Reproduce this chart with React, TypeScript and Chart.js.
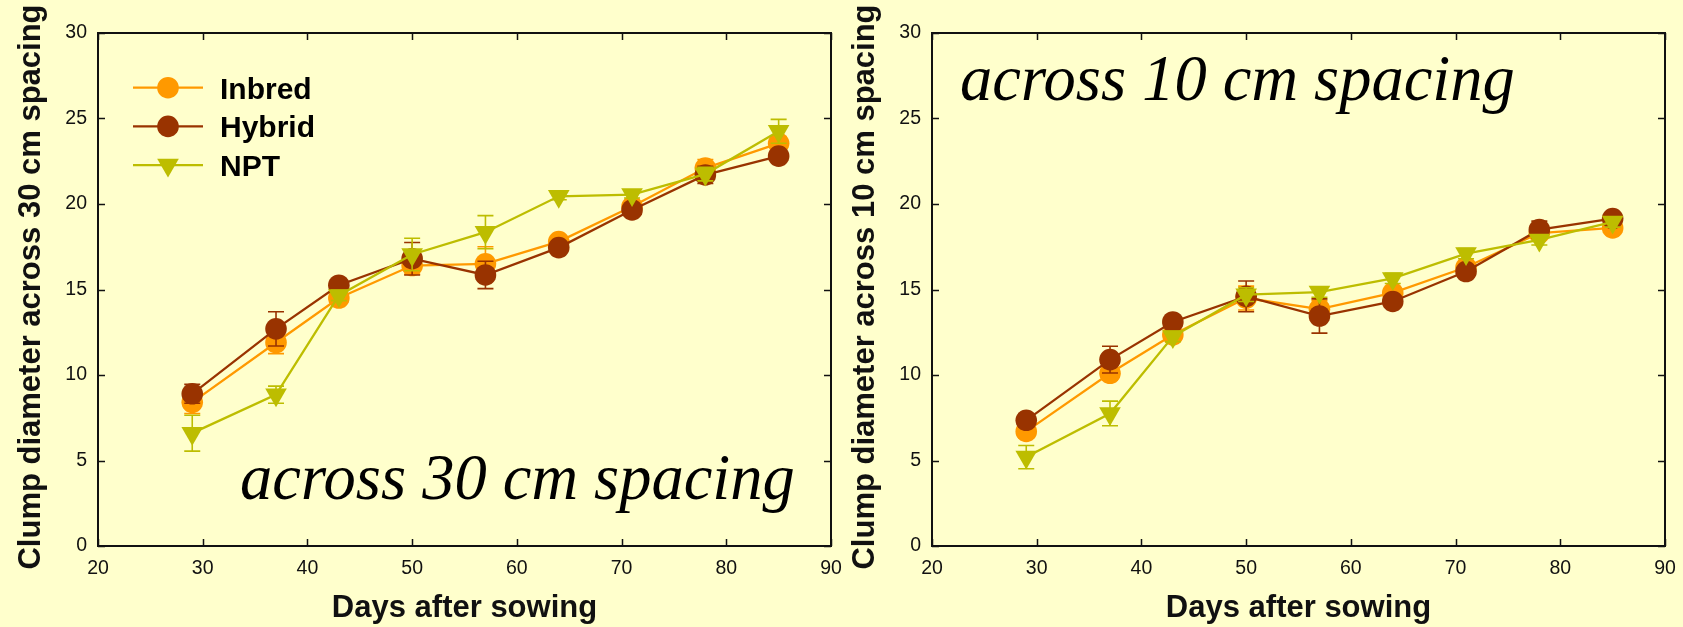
import React, { useEffect, useRef } from "react";
import { Chart, registerables } from "chart.js";

Chart.register(...registerables);

// ---------- data ----------
const days = [29, 37, 43, 50, 57, 64, 71, 78, 85];

const seriesNames = ["Inbred", "Hybrid", "NPT"];
const seriesColors = ["#FF9900", "#993300", "#BDBD00"];

// across 30 cm spacing
const inbred30 = [8.4, 11.9, 14.5, 16.4, 16.5, 17.8, 19.85, 22.1, 23.55];
const hybrid30 = [8.9, 12.7, 15.25, 16.8, 15.85, 17.45, 19.65, 21.7, 22.8];
const npt30 = [6.6, 8.85, 14.65, 17.05, 18.35, 20.45, 20.55, 21.75, 24.25];
const inbred30Err = [0.65, 0.65, 0.3, 0.5, 1.0, 0.3, 0.3, 0.5, 0.4];
const hybrid30Err = [0.55, 1.0, 0.3, 0.95, 0.8, 0.3, 0.3, 0.5, 0.3];
const npt30Err = [1.05, 0.5, 0.3, 0.95, 0.97, 0.2, 0.2, 0.4, 0.7];

// across 10 cm spacing
const inbred10 = [6.7, 10.1, 12.35, 14.5, 13.85, 14.8, 16.3, 18.3, 18.6];
const hybrid10 = [7.35, 10.9, 13.1, 14.6, 13.45, 14.3, 16.05, 18.5, 19.15];
const npt10 = [5.2, 7.75, 12.25, 14.7, 14.85, 15.65, 17.1, 17.9, 18.95];
const inbred10Err = [0.4, 0.4, 0.3, 0.7, 0.5, 0.3, 0.3, 0.3, 0.3];
const hybrid10Err = [0.4, 0.78, 0.3, 0.9, 1.0, 0.3, 0.3, 0.5, 0.3];
const npt10Err = [0.68, 0.72, 0.3, 0.4, 0.3, 0.3, 0.3, 0.3, 0.3];

const xMin = 20, xMax = 90, xStep = 10;
const yMin = 0, yMax = 30, yStep = 5;

const xTitle = "Days after sowing";
const yTitle30 = "Clump diameter across 30 cm spacing";
const yTitle10 = "Clump diameter across 10 cm spacing";
const note30 = "across 30 cm spacing";
const note10 = "across 10 cm spacing";

// ---------- styling ----------
const BG = "#FFFFCC";
const SANS = '"Liberation Sans", Arial, Helvetica, sans-serif';
const SERIF = '"Liberation Serif", "Times New Roman", serif';
const INK = "#111";
const CW = 849;
const CH = 627;

// ---------- plugins ----------
const framePlugin = {
  id: "frameTicks",
  beforeDatasetsDraw(chart: any) {
    const { ctx, chartArea: a, scales } = chart;
    const xs = scales.x, ys = scales.y;
    ctx.save();
    ctx.strokeStyle = INK;
    ctx.lineWidth = 2;
    ctx.strokeRect(a.left, a.top, a.right - a.left, a.bottom - a.top);
    ctx.lineWidth = 1.5;
    const L = 7;
    ctx.beginPath();
    xs.ticks.forEach((t: any) => {
      const px = Math.round(xs.getPixelForValue(t.value)) + 0.5;
      ctx.moveTo(px, a.bottom); ctx.lineTo(px, a.bottom - L);
      ctx.moveTo(px, a.top); ctx.lineTo(px, a.top + L);
    });
    ys.ticks.forEach((t: any) => {
      const py = Math.round(ys.getPixelForValue(t.value)) + 0.5;
      ctx.moveTo(a.left, py); ctx.lineTo(a.left + L, py);
      ctx.moveTo(a.right, py); ctx.lineTo(a.right - L, py);
    });
    ctx.stroke();
    ctx.restore();
  },
};

const errorBarPlugin = {
  id: "errorBars",
  beforeDatasetDraw(chart: any, args: any) {
    const ds = chart.data.datasets[args.index];
    const errs: number[] = ds.errors || [];
    const { ctx, scales } = chart;
    ctx.save();
    ctx.strokeStyle = ds.borderColor;
    ctx.lineWidth = 1.6;
    ctx.beginPath();
    ds.data.forEach((p: any, i: number) => {
      const e = errs[i] || 0;
      const px = scales.x.getPixelForValue(p.x);
      const y1 = scales.y.getPixelForValue(p.y + e);
      const y2 = scales.y.getPixelForValue(p.y - e);
      ctx.moveTo(px, y1); ctx.lineTo(px, y2);
      ctx.moveTo(px - 8, y1); ctx.lineTo(px + 8, y1);
      ctx.moveTo(px - 8, y2); ctx.lineTo(px + 8, y2);
    });
    ctx.stroke();
    ctx.restore();
  },
};

function drawMarker(ctx: CanvasRenderingContext2D, style: string, x: number, y: number, r: number, color: string) {
  ctx.fillStyle = color;
  ctx.beginPath();
  if (style === "triangle") {
    const s = Math.sin(Math.PI / 3);
    ctx.moveTo(x, y + r);
    ctx.lineTo(x - r * s, y - r / 2);
    ctx.lineTo(x + r * s, y - r / 2);
    ctx.closePath();
  } else {
    ctx.arc(x, y, r, 0, Math.PI * 2);
  }
  ctx.fill();
}

const textPlugin = {
  id: "panelText",
  afterDraw(chart: any, _args: any, opts: any) {
    const { ctx } = chart;
    ctx.save();
    // y axis title (drawn here so it is not squeezed to the axis height)
    ctx.translate(opts.yTitleX, opts.yTitleY);
    ctx.rotate(-Math.PI / 2);
    ctx.font = `bold 31px ${SANS}`;
    ctx.fillStyle = INK;
    ctx.textAlign = "center";
    ctx.textBaseline = "middle";
    ctx.fillText(opts.yTitle, 0, 0);
    ctx.restore();

    // panel annotation
    ctx.save();
    ctx.font = `italic 64.5px ${SERIF}`;
    ctx.fillStyle = "#000";
    ctx.textAlign = "left";
    ctx.textBaseline = "alphabetic";
    ctx.fillText(opts.note, opts.noteX, opts.noteY);
    ctx.restore();

    // legend
    if (opts.legend) {
      ctx.save();
      chart.data.datasets.forEach((ds: any, i: number) => {
        const cy = 87.7 + i * 38.7;
        ctx.strokeStyle = ds.borderColor;
        ctx.lineWidth = ds.borderWidth;
        ctx.beginPath();
        ctx.moveTo(133, cy); ctx.lineTo(203, cy);
        ctx.stroke();
        drawMarker(ctx, ds.pointStyle, 168, cy, ds.pointRadius, ds.borderColor);
        ctx.font = `bold 30px ${SANS}`;
        ctx.fillStyle = "#000";
        ctx.textAlign = "left";
        ctx.textBaseline = "alphabetic";
        ctx.fillText(ds.label, 220, cy + 11);
      });
      ctx.restore();
    }
  },
};

type PanelProps = {
  left: number;
  values: number[][];
  errors: number[][];
  yTitle: string;
  note: string;
  noteX: number;
  noteY: number;
  legend: boolean;
};

function Panel(props: PanelProps) {
  const ref = useRef<HTMLCanvasElement | null>(null);
  useEffect(() => {
    if (!ref.current) return;
    const datasets = seriesNames.map((name, i) => ({
      label: name,
      data: days.map((d, j) => ({ x: d, y: props.values[i][j] })),
      errors: props.errors[i],
      borderColor: seriesColors[i],
      backgroundColor: seriesColors[i],
      borderWidth: 2.3,
      pointStyle: i === 2 ? "triangle" : "circle",
      pointRotation: i === 2 ? 180 : 0,
      pointRadius: i === 2 ? 12.5 : 10.8,
      pointBorderWidth: 0,
      pointBackgroundColor: seriesColors[i],
      pointBorderColor: seriesColors[i],
      showLine: true,
      tension: 0,
      order: 3 - i,
    }));
    const chart = new Chart(ref.current, {
      type: "line",
      data: { datasets } as any,
      options: {
        animation: false,
        responsive: false,
        devicePixelRatio: 1,
        events: [],
        layout: { padding: { top: 33, left: 0, right: 18, bottom: 0 } },
        plugins: {
          legend: { display: false },
          tooltip: { enabled: false },
          panelText: {
            yTitle: props.yTitle,
            yTitleX: 31,
            yTitleY: 287,
            note: props.note,
            noteX: props.noteX,
            noteY: props.noteY,
            legend: props.legend,
          },
        } as any,
        scales: {
          x: {
            type: "linear",
            min: xMin,
            max: xMax,
            ticks: {
              stepSize: xStep,
              color: INK,
              font: { family: SANS, size: 19.5 },
              padding: 11,
              maxRotation: 0,
              autoSkip: false,
            },
            grid: { display: false, drawTicks: false },
            border: { display: false },
            title: {
              display: true,
              text: xTitle,
              color: INK,
              font: { family: SANS, size: 31, weight: "bold" },
              padding: { top: 0, bottom: 0 },
            },
            afterFit: (s: any) => {
              s.height = 81;
              s.paddingLeft = 0;
              s.paddingRight = 0;
            },
          },
          y: {
            type: "linear",
            min: yMin,
            max: yMax,
            ticks: {
              stepSize: yStep,
              color: INK,
              font: { family: SANS, size: 19.5 },
              padding: 11,
            },
            grid: { display: false, drawTicks: false },
            border: { display: false },
            afterFit: (s: any) => {
              s.width = 98;
              s.paddingTop = 0;
              s.paddingBottom = 0;
            },
          },
        } as any,
      },
      plugins: [framePlugin, errorBarPlugin, textPlugin],
    });
    return () => chart.destroy();
  }, []);
  return (
    <canvas
      ref={ref}
      width={CW}
      height={CH}
      style={{ position: "absolute", left: props.left, top: 0, width: CW, height: CH }}
    />
  );
}

export default function App() {
  useEffect(() => {
    document.body.style.margin = "0";
    document.body.style.background = BG;
  }, []);
  return (
    <div
      style={{
        position: "fixed",
        left: 0,
        top: 0,
        width: 1683,
        height: 627,
        background: BG,
        overflow: "hidden",
      }}
    >
      <Panel
        left={0}
        values={[inbred30, hybrid30, npt30]}
        errors={[inbred30Err, hybrid30Err, npt30Err]}
        yTitle={yTitle30}
        note={note30}
        noteX={240}
        noteY={499}
        legend={true}
      />
      <Panel
        left={834}
        values={[inbred10, hybrid10, npt10]}
        errors={[inbred10Err, hybrid10Err, npt10Err]}
        yTitle={yTitle10}
        note={note10}
        noteX={126}
        noteY={100}
        legend={false}
      />
    </div>
  );
}
